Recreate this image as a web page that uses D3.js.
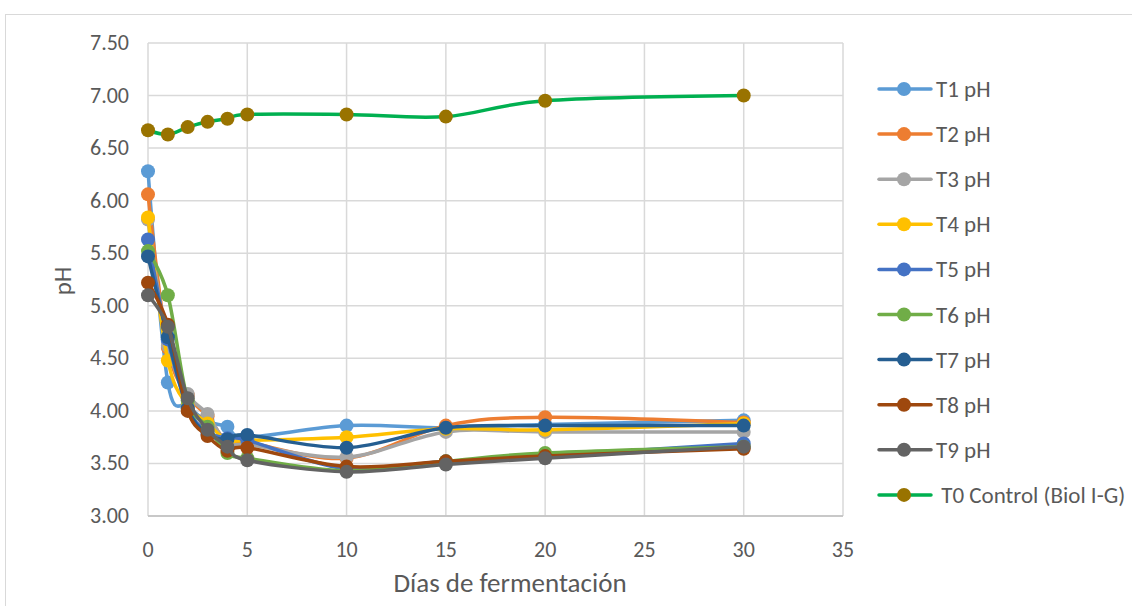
<!DOCTYPE html>
<html>
<head>
<meta charset="utf-8">
<script src="https://cdn.jsdelivr.net/npm/d3@7"></script>
<style>
  body { margin: 0; background: #fff; }
  svg { font-family: Calibri, Carlito, Lato, "Open Sans", sans-serif; }
</style>
</head>
<body>
<svg id="chart" width="1132" height="606"></svg>
<script>
// sampling days
const days = [0, 1, 2, 3, 4, 5, 10, 15, 20, 30];

// pH readings per treatment
const t1 = [6.28, 4.27, 4.05, 3.90, 3.85, 3.75, 3.86, 3.84, 3.87, 3.91];
const t2 = [6.06, 4.60, 4.15, 3.95, 3.70, 3.70, 3.55, 3.86, 3.94, 3.89];
const t3 = [5.82, 4.62, 4.16, 3.97, 3.68, 3.68, 3.56, 3.80, 3.80, 3.80];
const t4 = [5.84, 4.48, 4.05, 3.88, 3.72, 3.72, 3.75, 3.83, 3.82, 3.88];
const t5 = [5.63, 4.68, 4.03, 3.80, 3.74, 3.72, 3.45, 3.52, 3.57, 3.69];
const t6 = [5.52, 5.10, 4.10, 3.85, 3.60, 3.55, 3.43, 3.52, 3.60, 3.66];
const t7 = [5.47, 4.70, 4.02, 3.78, 3.73, 3.77, 3.65, 3.84, 3.86, 3.86];
const t8 = [5.22, 4.82, 4.00, 3.76, 3.62, 3.65, 3.47, 3.52, 3.57, 3.64];
const t9 = [5.10, 4.80, 4.12, 3.82, 3.66, 3.53, 3.42, 3.49, 3.55, 3.66];
const t0 = [6.67, 6.63, 6.70, 6.75, 6.78, 6.82, 6.82, 6.80, 6.95, 7.00];

const seriesNames = ['T1 pH', 'T2 pH', 'T3 pH', 'T4 pH', 'T5 pH', 'T6 pH', 'T7 pH', 'T8 pH', 'T9 pH', ' T0 Control (Biol I-G)'];
const seriesValues = [t1, t2, t3, t4, t5, t6, t7, t8, t9, t0];
const lineColors = ['#5B9BD5', '#ED7D31', '#A5A5A5', '#FFC000', '#4472C4', '#70AD47', '#255E91', '#9E480E', '#636363', '#00B050'];
const markerColors = ['#5B9BD5', '#ED7D31', '#A5A5A5', '#FFC000', '#4472C4', '#70AD47', '#255E91', '#9E480E', '#636363', '#997300'];

const xTicks = [0, 5, 10, 15, 20, 25, 30, 35];
const yTicks = [3.0, 3.5, 4.0, 4.5, 5.0, 5.5, 6.0, 6.5, 7.0, 7.5];

const svg = d3.select('#chart');

// outer chart border
svg.append('rect')
  .attr('x', 5.5).attr('y', 14.5)
  .attr('width', 1140).attr('height', 600)
  .attr('fill', 'none').attr('stroke', '#d9d9d9');

// plot area
const plot = {left: 148, right: 843, top: 43, bottom: 516};

const x = d3.scaleLinear().domain([0, 35]).range([plot.left, plot.right]);
const y = d3.scaleLinear().domain([3, 7.5]).range([plot.bottom, plot.top]);

// grid lines
svg.append('g').selectAll('line.h')
  .data(yTicks)
  .join('line')
  .attr('x1', plot.left).attr('x2', plot.right)
  .attr('y1', d => y(d)).attr('y2', d => y(d))
  .attr('stroke', '#d9d9d9').attr('stroke-width', 1.5);

svg.append('g').selectAll('line.v')
  .data(xTicks)
  .join('line')
  .attr('x1', d => x(d)).attr('x2', d => x(d))
  .attr('y1', plot.top).attr('y2', plot.bottom)
  .attr('stroke', '#d9d9d9').attr('stroke-width', 1.5);

// bottom axis line
svg.append('line')
  .attr('x1', plot.left).attr('x2', plot.right)
  .attr('y1', plot.bottom).attr('y2', plot.bottom)
  .attr('stroke', '#bfbfbf').attr('stroke-width', 1.5);

// tick labels
svg.append('g').selectAll('text')
  .data(yTicks)
  .join('text')
  .attr('x', 129)
  .attr('y', d => y(d) + 7)
  .attr('text-anchor', 'end')
  .attr('font-size', 22)
  .attr('fill', '#595959')
  .text(d => d.toFixed(2));

svg.append('g').selectAll('text')
  .data(xTicks)
  .join('text')
  .attr('x', d => x(d))
  .attr('y', 557)
  .attr('text-anchor', 'middle')
  .attr('font-size', 22)
  .attr('fill', '#595959')
  .text(d => d);

// axis titles
svg.append('text')
  .attr('transform', 'translate(71,281) rotate(-90)')
  .attr('text-anchor', 'middle')
  .attr('font-size', 25)
  .attr('fill', '#595959')
  .text('pH');

svg.append('text')
  .attr('x', 510).attr('y', 592)
  .attr('text-anchor', 'middle')
  .attr('font-size', 27)
  .attr('fill', '#595959')
  .text('Días de fermentación');

// smooth lines like the spreadsheet's smoothed line option
const line = d3.line()
  .x((d, i) => x(days[i]))
  .y(d => y(d))
  .curve(d3.curveCatmullRom.alpha(0));

seriesValues.forEach((vals, s) => {
  const g = svg.append('g');
  g.append('path')
    .attr('d', line(vals))
    .attr('fill', 'none')
    .attr('stroke', lineColors[s])
    .attr('stroke-width', 3.5)
    .attr('stroke-linecap', 'round');
  g.selectAll('circle')
    .data(vals)
    .join('circle')
    .attr('cx', (d, i) => x(days[i]))
    .attr('cy', d => y(d))
    .attr('r', 7)
    .attr('fill', markerColors[s]);
});

// legend
const legend = svg.append('g');
seriesNames.forEach((name, s) => {
  const ly = 89 + s * 45.1;
  legend.append('line')
    .attr('x1', 879).attr('x2', 931)
    .attr('y1', ly).attr('y2', ly)
    .attr('stroke', lineColors[s]).attr('stroke-width', 3.5)
    .attr('stroke-linecap', 'round');
  legend.append('circle')
    .attr('cx', 904).attr('cy', ly).attr('r', 7)
    .attr('fill', markerColors[s]);
  legend.append('text')
    .attr('x', 936).attr('y', ly + 8)
    .attr('font-size', 23)
    .attr('fill', '#595959')
    .attr('xml:space', 'preserve')
    .style('white-space', 'pre')
    .text(name);
});
</script>
</body>
</html>
